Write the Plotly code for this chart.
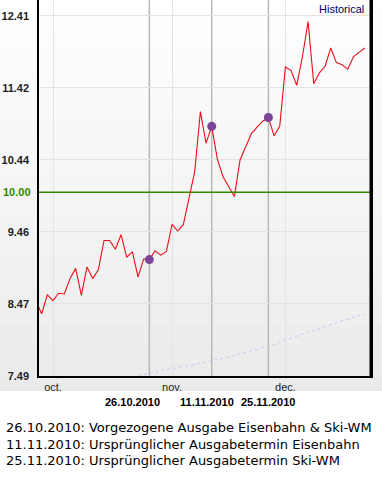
import plotly.graph_objects as go

# ---------------- data ----------------
dates = [
    "2010-09-28", "2010-09-29", "2010-09-30", "2010-10-01", "2010-10-04", "2010-10-05",
    "2010-10-06", "2010-10-07", "2010-10-08", "2010-10-11", "2010-10-12", "2010-10-13",
    "2010-10-14", "2010-10-15", "2010-10-18", "2010-10-19", "2010-10-20", "2010-10-21",
    "2010-10-22", "2010-10-25", "2010-10-26", "2010-10-27", "2010-10-28", "2010-10-29",
    "2010-11-02", "2010-11-03", "2010-11-04", "2010-11-05", "2010-11-08", "2010-11-09",
    "2010-11-10", "2010-11-11", "2010-11-12", "2010-11-15", "2010-11-16", "2010-11-17",
    "2010-11-18", "2010-11-19", "2010-11-22", "2010-11-23", "2010-11-24", "2010-11-25",
    "2010-11-29", "2010-11-30", "2010-12-01", "2010-12-02", "2010-12-03", "2010-12-06",
    "2010-12-07", "2010-12-08", "2010-12-09", "2010-12-10", "2010-12-13", "2010-12-14",
    "2010-12-15", "2010-12-16", "2010-12-17", "2010-12-20", "2010-12-21",
]

price = [
    8.51, 8.34, 8.60, 8.52, 8.62, 8.61,
    8.82, 8.96, 8.59, 8.98, 8.82, 8.94,
    9.34, 9.34, 9.22, 9.42, 9.11, 9.19,
    8.84, 9.09, 9.08, 9.20, 9.14, 9.19,
    9.56, 9.47, 9.56, 9.94, 10.28, 11.10,
    10.67, 10.90, 10.45, 10.21, 10.08, 9.94,
    10.44, 10.62, 10.80, 10.89, 10.97, 11.02,
    10.77, 10.90, 11.71, 11.66, 11.46, 11.85,
    12.33, 11.48, 11.63, 11.72, 11.97, 11.77,
    11.74, 11.68, 11.85, 11.91, 11.97,
]

benchmark = [
    None, None, None, None, None, None,
    None, None, None, None, None, None,
    None, None, None, None, None, None,
    7.49, 7.51, 7.53, 7.55, 7.56, 7.58,
    7.59, 7.61, 7.62, 7.63, 7.65, 7.66,
    7.68, 7.70, 7.72, 7.73, 7.75, 7.77,
    7.79, 7.81, 7.83, 7.85, 7.87, 7.89,
    7.92, 7.95, 7.98, 8.00, 8.03, 8.06,
    8.09, 8.11, 8.14, 8.16, 8.19, 8.22,
    8.24, 8.27, 8.29, 8.32, 8.34,
]

event_dates = ["2010-10-26", "2010-11-11", "2010-11-25"]
event_labels = ["26.10.2010", "11.11.2010", "25.11.2010"]
event_texts = [
    "26.10.2010: Vorgezogene Ausgabe Eisenbahn &amp; Ski-WM",
    "11.11.2010: Ursprünglicher Ausgabetermin Eisenbahn",
    "25.11.2010: Ursprünglicher Ausgabetermin Ski-WM",
]

month_ticks = ["2010-10-01", "2010-11-02", "2010-12-01"]
month_labels = ["oct.", "nov.", "dec."]

y_ticks = [7.49, 8.474, 9.458, 10.442, 11.426, 12.41]
y_labels = ["7.49", "8.47", "9.46", "10.44", "11.42", "12.41"]
ref_level = 10.00
ref_label = "10.00"

# ---------------- layout geometry ----------------
W, H = 382, 481
ML, MR, MT, MB = 39, 11, 0, 105
PW = W - ML - MR
PH = H - MT - MB


def px_x(px):
    return (px - ML) / PW


def px_y(py):
    return (H - MB - py) / PH


fig = go.Figure()

# background gradient (white -> light gray)
n_bands = 40
top_px, bot_px = 0, 391
for i in range(n_bands):
    y0 = top_px + (bot_px - top_px) * i / n_bands
    y1 = top_px + (bot_px - top_px) * (i + 1) / n_bands
    c = int(round(255 - (255 - 234) * (i + 0.5) / n_bands))
    fig.add_shape(type="rect", xref="paper", yref="paper",
                  x0=px_x(0), x1=px_x(W), y0=px_y(y1), y1=px_y(y0),
                  fillcolor=f"rgb({c},{c},{c})", line=dict(width=0), layer="below")

# event vertical lines
for d in event_dates:
    fig.add_shape(type="line", xref="x", yref="paper", x0=d, x1=d, y0=0, y1=1,
                  line=dict(color="#b9b9b9", width=1.5), layer="below")

# reference level line
fig.add_shape(type="line", xref="paper", yref="y", x0=0, x1=1, y0=ref_level, y1=ref_level,
              line=dict(color="#2f8a00", width=1.5), layer="above")

# right frame line
fig.add_shape(type="rect", xref="paper", yref="paper", x0=px_x(369.5), x1=px_x(371.5),
              y0=0, y1=1, fillcolor="black", line=dict(width=0), layer="above")

fig.add_trace(go.Scatter(x=dates, y=benchmark, mode="lines",
                         line=dict(color="#bcd2f4", width=1, dash="dot"),
                         hoverinfo="skip", showlegend=False))

fig.add_trace(go.Scatter(x=dates, y=price, mode="lines",
                         line=dict(color="#e8101a", width=1.1),
                         showlegend=False))

price_by_date = dict(zip(dates, price))
fig.add_trace(go.Scatter(x=event_dates, y=[price_by_date[d] for d in event_dates],
                         mode="markers",
                         marker=dict(color="#7b4497", size=9, line=dict(width=0)),
                         showlegend=False))

annotations = []
annotations.append(dict(text="Historical", xref="paper", yref="paper", x=1, y=1,
                        xanchor="right", yanchor="top", xshift=-5, yshift=-1,
                        showarrow=False,
                        font=dict(family="Liberation Sans, Arial", size=11, color="#000066")))
annotations.append(dict(text=f"<b>{ref_label}</b>", xref="paper", yref="y", x=0, y=ref_level,
                        xanchor="right", yanchor="middle", xshift=-6, showarrow=False,
                        font=dict(family="Liberation Sans, Arial", size=11, color="#2f8a00")))
label_shifts = [-17, -5, 0]
for d, lab, sh in zip(event_dates, event_labels, label_shifts):
    annotations.append(dict(text=f"<b>{lab}</b>", xref="x", yref="paper", x=d, y=0,
                            xanchor="center", yanchor="middle", xshift=sh, yshift=-26,
                            showarrow=False,
                            font=dict(family="Liberation Sans, Arial", size=11, color="black")))
line_centers = [427, 444, 461]
for t, cy in zip(event_texts, line_centers):
    annotations.append(dict(text=t, xref="paper", yref="paper", x=px_x(4), y=px_y(cy),
                            xanchor="left", yanchor="middle", showarrow=False,
                            font=dict(family="DejaVu Sans", size=13, color="black")))

fig.update_layout(
    width=W, height=H,
    margin=dict(l=ML, r=MR, t=MT, b=MB, autoexpand=False),
    paper_bgcolor="white",
    plot_bgcolor="rgba(0,0,0,0)",
    showlegend=False,
    annotations=annotations,
    xaxis=dict(type="category", range=[0.53, 59.1],
               tickvals=month_ticks, ticktext=month_labels,
               showgrid=True, gridcolor="#e4e4e4", gridwidth=1,
               showline=True, linecolor="black", linewidth=1.5,
               ticks="", tickfont=dict(family="Liberation Sans, Arial", size=11, color="#222"),
               zeroline=False, fixedrange=True),
    yaxis=dict(range=[7.49, 12.625], tickvals=y_ticks,
               ticktext=[f"<b>{t}</b>" for t in y_labels],
               showgrid=True, gridcolor="#e4e4e4", gridwidth=1,
               showline=True, mirror=True, linecolor="black", linewidth=1.5,
               ticks="", ticklabelstandoff=6,
               tickfont=dict(family="Liberation Sans, Arial", size=11, color="#222"),
               zeroline=False, fixedrange=True),
)

fig.write_html("out.html", config={"displayModeBar": False},
               post_script="document.body.style.margin='0';document.body.style.overflow='hidden';")
